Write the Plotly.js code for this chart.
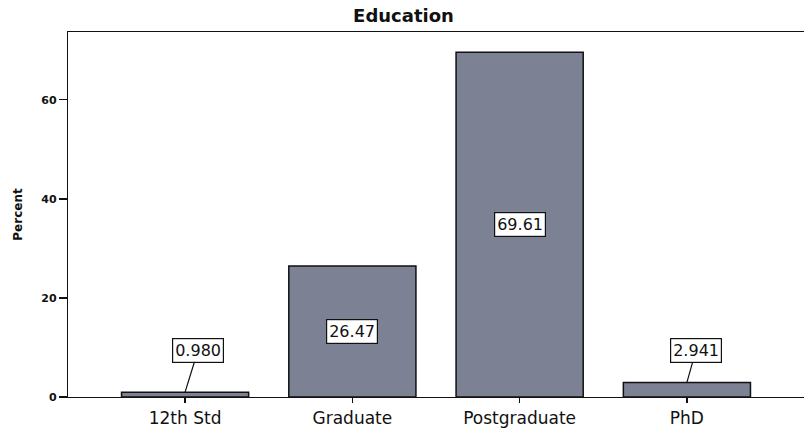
<!DOCTYPE html>
<html>
<head>
<meta charset="utf-8">
<script src="https://cdn.plot.ly/plotly-3.0.1.min.js"></script>
<style>html,body{margin:0;padding:0;background:#fff;}#chart{width:807px;height:428px;}</style>
</head>
<body>
<div id="chart"></div>
<script>
const categories = ['12th Std', 'Graduate', 'Postgraduate', 'PhD'];
const values = [0.980, 26.47, 69.61, 2.941];
const valueLabels = ['0.980', '26.47', '69.61', '2.941'];
const yTicks = [0, 20, 40, 60];

const FONT = 'DejaVu Sans, Arial, sans-serif';

const trace = {
  type: 'bar',
  x: categories.map((c, i) => i),
  y: values,
  width: 0.76,
  marker: { color: '#7c8294', line: { color: '#111', width: 1.5 } },
  hoverinfo: 'skip'
};

const calloutOffsets = { 0: [13, -42], 3: [9, -32] };

const annotations = values.map((v, i) => {
  const small = v < 10;
  const off = calloutOffsets[i] || [0, 0];
  return {
    x: i, y: small ? v : v / 2, xref: 'x', yref: 'y',
    text: valueLabels[i],
    showarrow: small,
    arrowhead: 0, arrowwidth: 1.2, arrowcolor: '#111',
    ax: small ? off[0] : 0, ay: small ? off[1] : 0,
    bgcolor: '#fff', bordercolor: '#111', borderwidth: 1.2, borderpad: 2,
    font: { family: FONT, size: 16, color: '#111' }
  };
});

const layout = {
  width: 807, height: 428,
  margin: { l: 68, r: 3, t: 32, b: 31 },
  paper_bgcolor: '#fff', plot_bgcolor: '#fff',
  title: { text: '<b>Education</b>', x: 0.5, xanchor: 'center', y: 0.978, yanchor: 'top',
    font: { family: FONT, size: 18, color: '#111' } },
  xaxis: {
    range: [-0.7, 3.7],
    tickmode: 'array', tickvals: categories.map((c, i) => i), ticktext: categories,
    ticks: 'outside', ticklen: 5, tickcolor: '#111', tickwidth: 1.2,
    showline: true, linecolor: '#111', linewidth: 1.2, mirror: true,
    showgrid: false, zeroline: false,
    tickfont: { family: FONT, size: 17, color: '#111' }
  },
  yaxis: {
    range: [0, 73.7],
    tickmode: 'array', tickvals: yTicks,
    ticks: 'outside', ticklen: 8, tickcolor: '#111', tickwidth: 1.2,
    showline: true, linecolor: '#111', linewidth: 1.2,
    showgrid: false, zeroline: false,
    tickfont: { family: FONT, size: 11, color: '#111', weight: 'bold' },
    title: { text: '<b>Percent</b>', standoff: 16,
      font: { family: FONT, size: 12, color: '#111' } }
  },
  annotations: annotations,
  showlegend: false
};

Plotly.newPlot('chart', [trace], layout, { displayModeBar: false, staticPlot: true });
</script>
</body>
</html>
